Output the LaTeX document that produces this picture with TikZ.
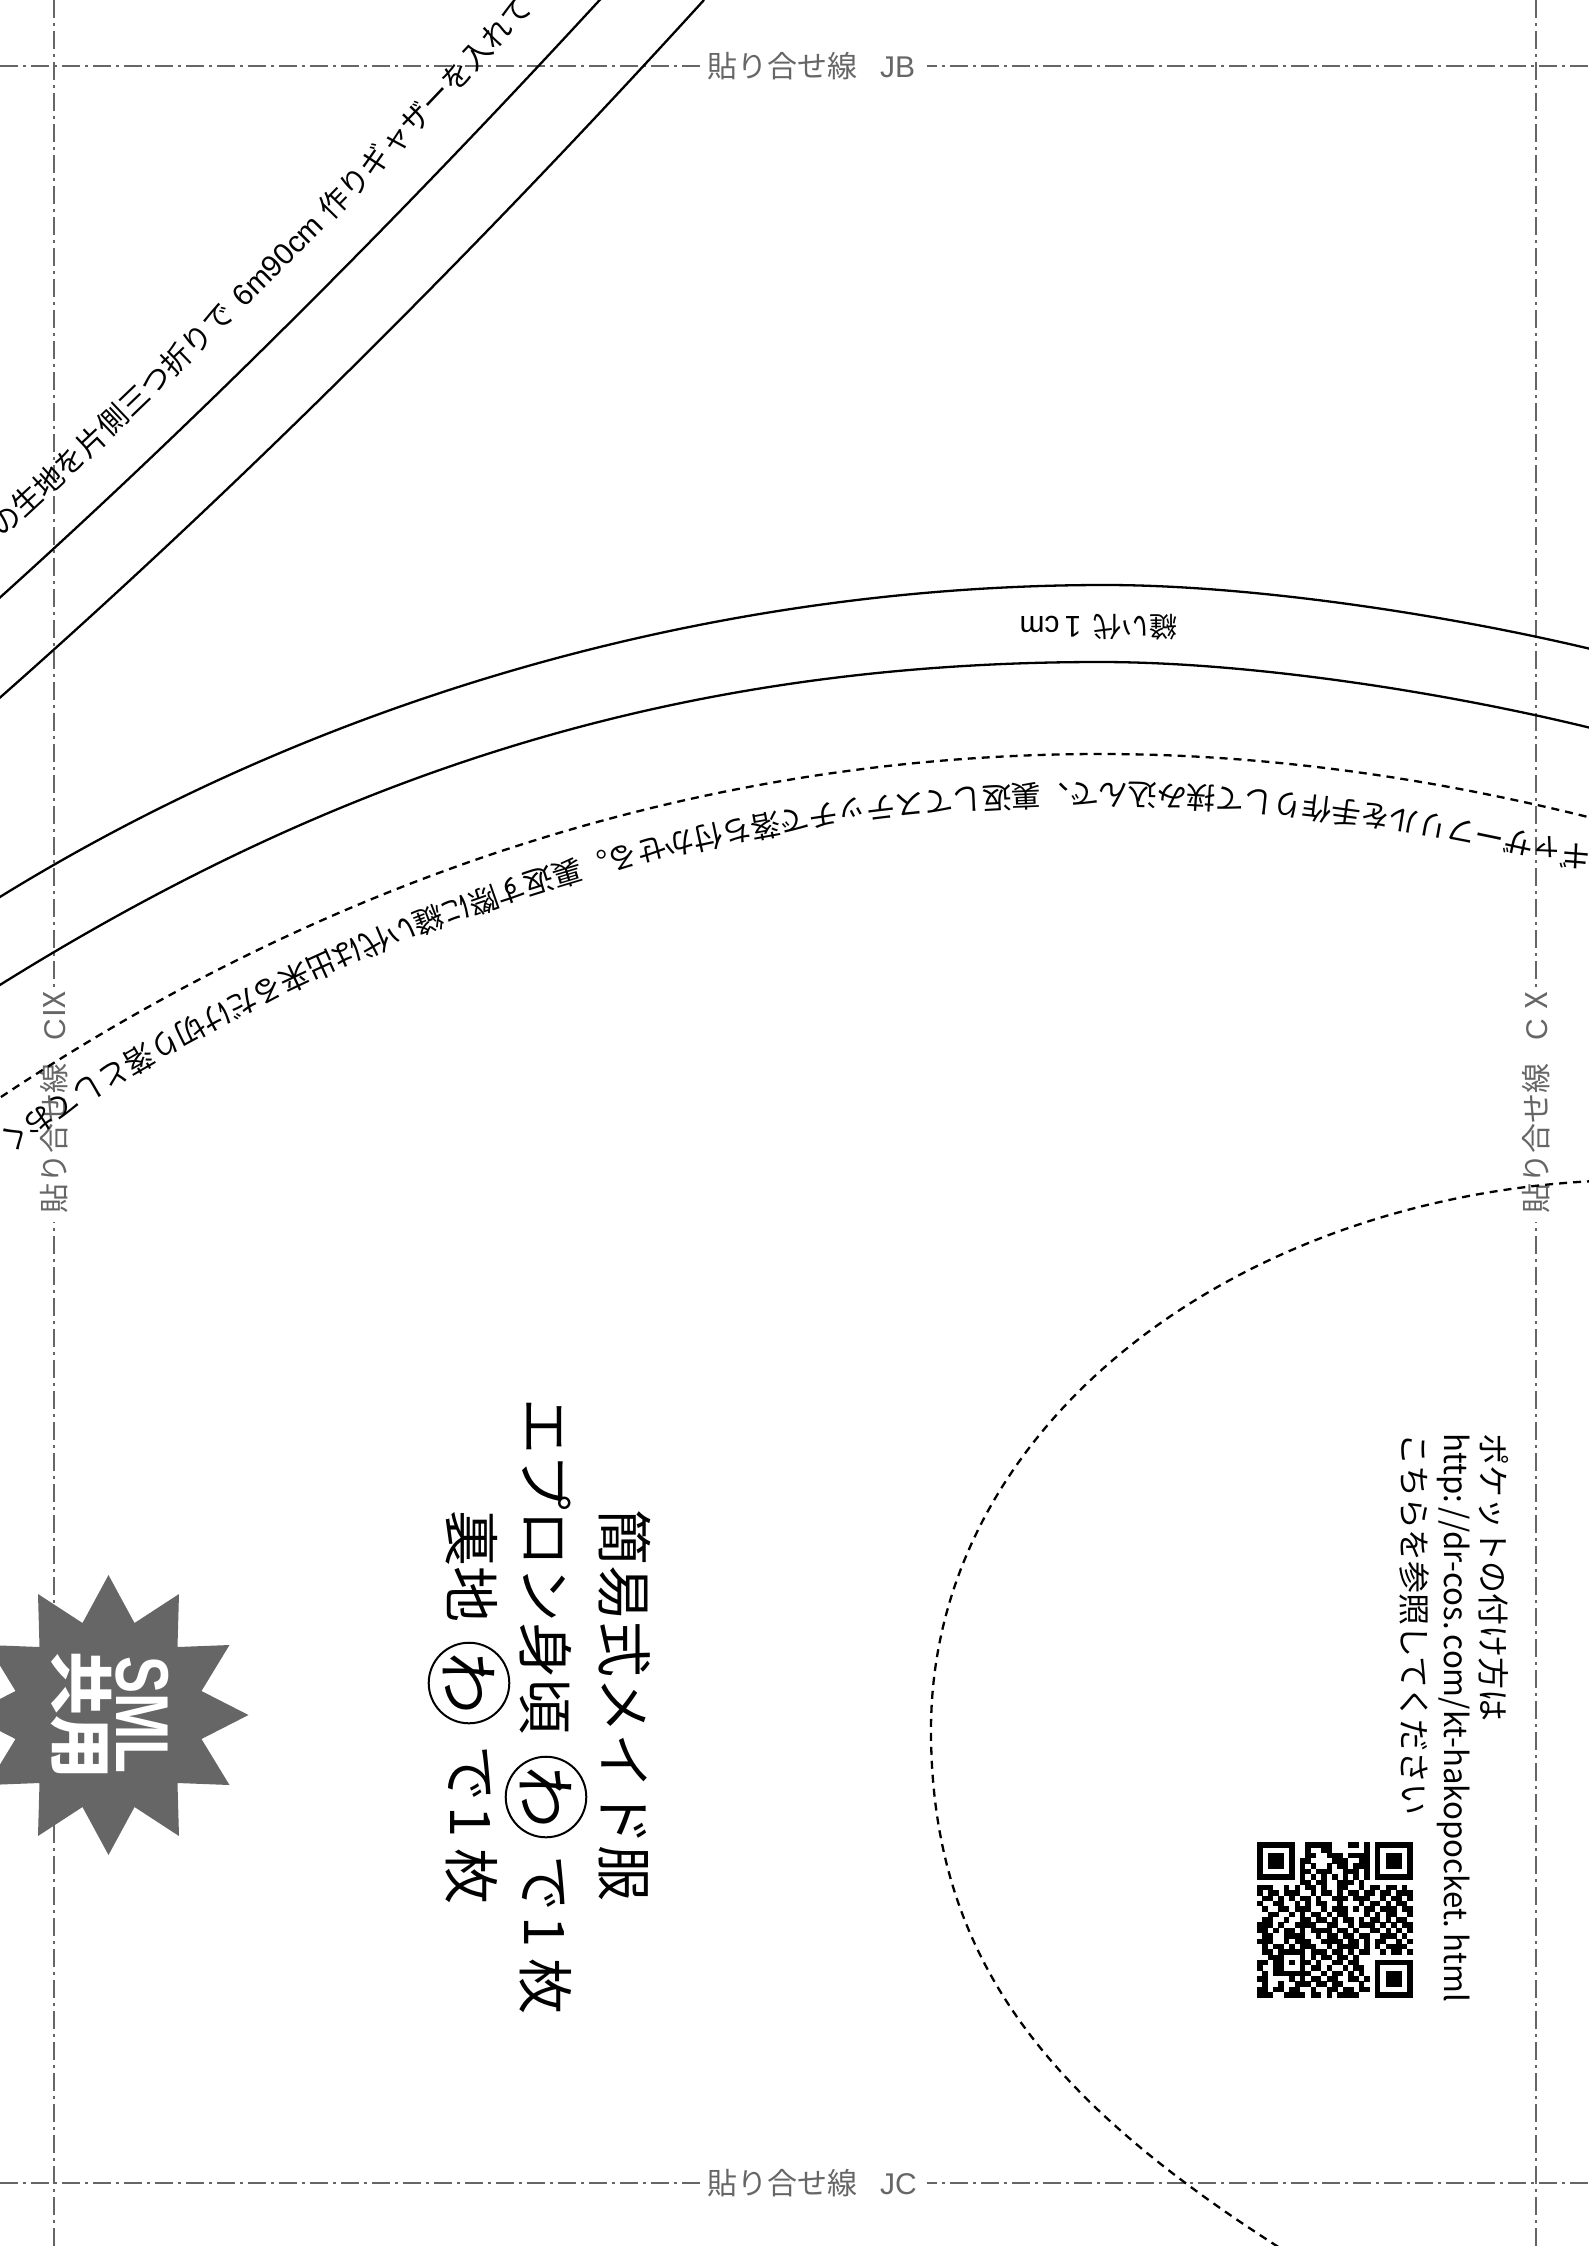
\documentclass[tikz,border=0pt]{standalone}
\usepackage{fontspec}
\usetikzlibrary{decorations.text}
\newfontfamily\jp{Noto Sans CJK JP}
\newfontfamily\lat{Liberation Sans}
\newcommand\fs[1]{\fontsize{#1}{#1}\selectfont}
\definecolor{guidegray}{HTML}{666666}
\newcount\qrx
\newcount\qry
\def\qrparse#1{\ifx#1\relax\else\if1#1\fill[black](\the\qrx*5.36+1257,\the\qry*5.36+1842) rectangle ++(5.5,5.5);\fi\global\advance\qrx by1 \expandafter\qrparse\fi}
\tikzset{
  guide/.style={guidegray,line width=2pt,dash pattern=on 18pt off 5pt on 3pt off 5pt},
  seam/.style={black,line width=2.3pt},
  stitch/.style={black,line width=2.3pt,dash pattern=on 8pt off 6pt},
  glabel/.style={inner sep=0pt,text=guidegray,font=\jp\fs{30}},
  title/.style={inner sep=0pt,rotate=-90,anchor=west,font=\jp\fs{56}},
  note/.style={inner sep=0pt,rotate=-90,anchor=west,font=\jp\fs{32}},
  ring/.style={circle,draw=black,line width=2pt,minimum size=76pt,inner sep=0pt,rotate=-90,font=\jp\fs{62}},
}
\def\diagA{(-5,602) .. controls (210,408.5) and (425,192) .. (640,-44)}
\def\diagB{(-5,702) .. controls (230,495) and (470,257) .. (704,0)}
\def\archA{(-5,900) .. controls (325,695) and (720,585) .. (1105,585) .. controls (1250,585) and (1445,614) .. (1595,650)}
\def\archB{(-5,988) .. controls (340,772) and (680,662) .. (1100,662) .. controls (1250,662) and (1445,692) .. (1595,729)}
\def\archC{(1600,820) .. controls (1450,782) and (1280,754) .. (1101,754) .. controls (700,754) and (315,880) .. (-30,1118)}
\def\bigarc{(1595,1181) .. controls (1230,1199) and (931,1428) .. (931,1730) .. controls (931,1960) and (1050,2101) .. (1280,2248)}
\begin{document}
\begin{tikzpicture}[x=1pt,y=-1pt]
\useasboundingbox (0,0) rectangle (1588,2246);
% guide lines
\draw[guide] (0,66) -- (700,66);
\draw[guide] (1588,66) -- (927,66);
\draw[guide] (0,2183) -- (700,2183);
\draw[guide] (1588,2183) -- (927,2183);
\draw[guide] (54,0) -- (54,987);
\draw[guide] (54,2246) -- (54,1222);
\draw[guide] (1536,0) -- (1536,987);
\draw[guide] (1536,2246) -- (1536,1222);
\node[glabel,anchor=west] (jb) at (707,66) {貼り合せ線\hspace{23pt}{\lat JB}};
\node[glabel,anchor=west] (jc) at (707,2183) {貼り合せ線\hspace{23pt}{\lat JC}};
\node[glabel,anchor=west,rotate=90] (cix) at (54,1214) {貼り合せ線\hspace{23pt}{\lat C}Ⅸ};
\node[glabel,anchor=west,rotate=90] (cx) at (1536,1214) {貼り合せ線\hspace{23pt}{\lat C}\hspace{4pt}Ⅹ};
% pattern lines
\draw[seam] \diagA;
\draw[seam] \diagB;
\draw[seam] \archA;
\draw[seam] \archB;
\draw[stitch] \archC;
\draw[stitch] \bigarc;
% texts along lines
\path[decorate,decoration={text along path,raise=42pt,text align={left indent=48pt},
  text={|\jp\fs{29.5}|の生地を片側三つ折りで|\jp\fs{50}| |\lat\fs{30}|6m90cm|\jp\fs{40}| |\jp\fs{29.5}|作りギャザーを入れて}}]
  \diagA;
\path[decorate,decoration={text along path,raise=30pt,text align={left indent=0pt},
  text={|\jp\fs{29.8}|ギャザーフリルを手作りして挟み込んで、裏返してステッチで落ち付かせる。裏返す際に縫い代は出来るだけ切り落としておく}}]
  \archC;
\node[inner sep=0pt,rotate=180,font=\jp\fs{28}] (seamallow) at (1098.5,627) {縫い代\hspace{12pt}{\lat\fs{30}1}\hspace{5pt}{\lat\fs{30}cm}};
% star
\fill[guidegray,shift={(1.5,0)}] plot coordinates {(107,1575)(133,1623)(177.5,1594)(176,1647)(228,1645)(200,1691)(247,1715)(200,1739)(228,1785)(176,1783)(177.5,1836)(133,1807)(107,1855)(81,1807)(36.5,1836)(38,1783)(-14,1785)(14,1739)(-33,1715)(14,1691)(-14,1645)(38,1647)(36.5,1594)(81,1623)} -- cycle;
\node[inner sep=0pt,rotate=-90,text=white] (sml) at (142,1715) {\scalebox{1}[1.35]{\lat\bfseries\fs{55.5}SML}};
\node[inner sep=0pt,rotate=-90,text=white,font=\jp\bfseries\fs{64}] (kyo) at (81,1715) {共用};
% title
\node[title] (t1) at (625,1509) {簡易式メイド服};
\node[title] (t2a) at (546,1398) {エプロン身頃};
\node[ring] (r2) at (546,1797) {わ};
\node[title] (t2b) at (546,1855) {で\hspace{5pt}1\hspace{11pt}枚};
\node[title] (t3a) at (472,1510) {裏地};
\node[ring] (r3) at (469,1683) {わ};
\node[title] (t3b) at (472,1745) {で\hspace{5pt}1\hspace{11pt}枚};
% note
\node[note] (n1) at (1494,1433) {ポケットの付け方は};
\node[note] (n2) at (1454,1433) {\scalebox{0.975}[1]{http:\hspace{5pt}//dr-cos.\hspace{5pt}com/kt-hakopocket.\hspace{5pt}html}};
\node[note] (n3) at (1415,1433) {こちらを参照してください};
% QR
\global\qry=0
\foreach \r in {
11111110011111000110101111111,
10000010010011000000101000001,
10111010011001110111101011101,
10111010110000111001101011101,
10111010101001011011101011101,
10000010110111001110101000001,
11111110101010101010101111111,
00000000110110011101000000000,
11100101011010011001011011010,
10110111001011010110110110111,
01101010110100111011100101101,
10011001010110010001011010110,
01001101110010111010110111011,
00110010101101011000101011001,
01100100110110101101011010110,
11101001111001100101110101011,
11010110101111011010011010101,
01100111100101101101100111010,
11100101110011110110101100101,
01011010111001011110101011110,
01101111101110110101100101101,
00111000101011011010000000000,
11011010110100110110001111111,
10011000101101001011001000001,
01011111110010110101001011101,
11000010101101100110101011101,
01001001110110110001001011101,
11011011001001101101101000001,
11100111101101011110001111111}{%
  \global\qrx=0
  \expandafter\qrparse\r\relax
  \global\advance\qry by 1
}
\end{tikzpicture}
\end{document}
